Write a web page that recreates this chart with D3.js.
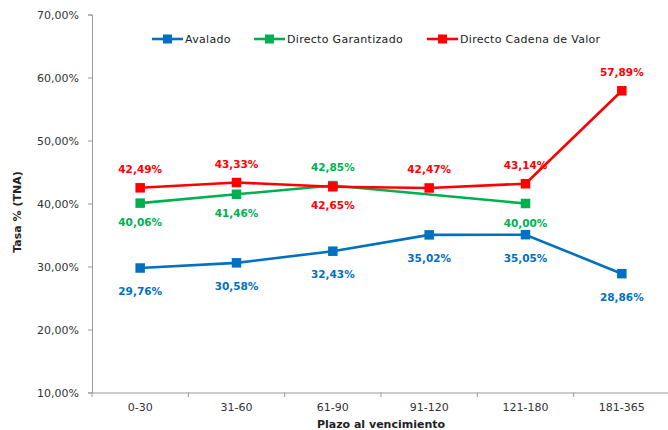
<!DOCTYPE html>
<html>
<head>
<meta charset="utf-8">
<script src="https://cdn.jsdelivr.net/npm/d3@7"></script>
<style>
  body { margin: 0; background: #fff; }
  text { font-family: "DejaVu Sans", Verdana, sans-serif; }
</style>
</head>
<body>
<svg id="chart" width="668" height="430"></svg>
<script>
// chart data
var categories = ["0-30", "31-60", "61-90", "91-120", "121-180", "181-365"];
var avalado = [29.76, 30.58, 32.43, 35.02, 35.05, 28.86];
var garantizado = [40.06, 41.46, 42.85, null, 40.00, null];
var cadena = [42.49, 43.33, 42.65, 42.47, 43.14, 57.89];
var yTicks = [10, 20, 30, 40, 50, 60, 70];
var seriesNames = ["Avalado", "Directo Garantizado", "Directo Cadena de Valor"];

// which side the value label sits on (1 = below, -1 = above)
var avaladoSide = [1, 1, 1, 1, 1, 1];
var garantizadoSide = [1, 1, -1, 1, 1, 1];
var cadenaSide = [-1, -1, 1, -1, -1, -1];

var colors = ["#0070C0", "#00B050", "#FF0000"];

var svg = d3.select("#chart");

var x = d3.scaleBand()
    .domain(categories)
    .range([92, 670]);

var y = d3.scaleLinear()
    .domain([10, 70])
    .range([392.5, 14.5]);

var fmt = function (v) { return v.toFixed(2).replace(".", ",") + "%"; };

// y axis
var yAxis = svg.append("g")
    .attr("transform", "translate(92,0)")
    .call(d3.axisLeft(y).tickValues(yTicks).tickSize(4).tickPadding(9).tickFormat(function (d) { return fmt(d); }));
yAxis.select(".domain").attr("stroke", "#9a9a9a");
yAxis.selectAll(".tick line").attr("stroke", "#9a9a9a");
yAxis.selectAll(".tick text")
    .attr("fill", "#333")
    .style("font-size", "11px")
    .style("font-family", "DejaVu Sans, sans-serif");

// x axis
var xAxis = svg.append("g")
    .attr("transform", "translate(0,392.5)")
    .call(d3.axisBottom(x).tickSize(0).tickPadding(11));
xAxis.select(".domain").attr("stroke", "#9a9a9a");
xAxis.selectAll(".tick text")
    .attr("fill", "#333")
    .style("font-size", "11px")
    .style("font-family", "DejaVu Sans, sans-serif");

// tick marks between categories
svg.append("g").selectAll("line")
    .data(categories.concat(["end"]))
    .enter()
    .append("line")
    .attr("x1", function (d, i) { return 92 + i * x.bandwidth(); })
    .attr("x2", function (d, i) { return 92 + i * x.bandwidth(); })
    .attr("y1", 392.5)
    .attr("y2", 397)
    .attr("stroke", "#9a9a9a");

// axis titles
svg.append("text")
    .attr("transform", "translate(21,212) rotate(-90)")
    .attr("text-anchor", "middle")
    .style("font-size", "11px")
    .style("font-weight", "bold")
    .attr("fill", "#222")
    .text("Tasa % (TNA)");

svg.append("text")
    .attr("x", 381)
    .attr("y", 428)
    .attr("text-anchor", "middle")
    .style("font-size", "11px")
    .style("font-weight", "bold")
    .attr("fill", "#222")
    .text("Plazo al vencimiento");

var line = d3.line()
    .x(function (d) { return x(d.cat) + x.bandwidth() / 2; })
    .y(function (d) { return y(d.val); });

function drawSeries(values, sides, color, belowOffset) {
    var pts = [];
    values.forEach(function (v, i) {
        if (v !== null) pts.push({ cat: categories[i], val: v, side: sides[i] });
    });
    var g = svg.append("g");
    g.append("path")
        .datum(pts)
        .attr("d", line)
        .attr("fill", "none")
        .attr("stroke", color)
        .attr("stroke-width", 2.6);
    g.selectAll("rect")
        .data(pts)
        .enter()
        .append("rect")
        .attr("x", function (d) { return x(d.cat) + x.bandwidth() / 2 - 4.75; })
        .attr("y", function (d) { return y(d.val) - 4.75; })
        .attr("width", 9.5)
        .attr("height", 9.5)
        .attr("fill", color);
    g.selectAll("text")
        .data(pts)
        .enter()
        .append("text")
        .attr("x", function (d) { return x(d.cat) + x.bandwidth() / 2; })
        .attr("y", function (d) { return y(d.val) + (d.side > 0 ? belowOffset : -19) + 4; })
        .attr("text-anchor", "middle")
        .style("font-size", "10.5px")
        .style("font-weight", "bold")
        .attr("fill", color)
        .text(function (d) { return fmt(d.val); });
}

drawSeries(avalado, avaladoSide, colors[0], 23);
drawSeries(garantizado, garantizadoSide, colors[1], 19);
drawSeries(cadena, cadenaSide, colors[2], 18);

// legend
var legendX = [152, 254, 427];
var legend = svg.append("g");
seriesNames.forEach(function (name, i) {
    var lg = legend.append("g").attr("transform", "translate(" + legendX[i] + ",39)");
    lg.append("line")
        .attr("x1", 0).attr("x2", 31)
        .attr("y1", 0).attr("y2", 0)
        .attr("stroke", colors[i])
        .attr("stroke-width", 2.6);
    lg.append("rect")
        .attr("x", 11).attr("y", -4.5)
        .attr("width", 9).attr("height", 9)
        .attr("fill", colors[i]);
    lg.append("text")
        .attr("x", 33)
        .attr("y", 4)
        .style("font-size", "11px")
        .style("letter-spacing", "0.3px")
        .attr("fill", "#222")
        .text(name);
});
</script>
</body>
</html>
